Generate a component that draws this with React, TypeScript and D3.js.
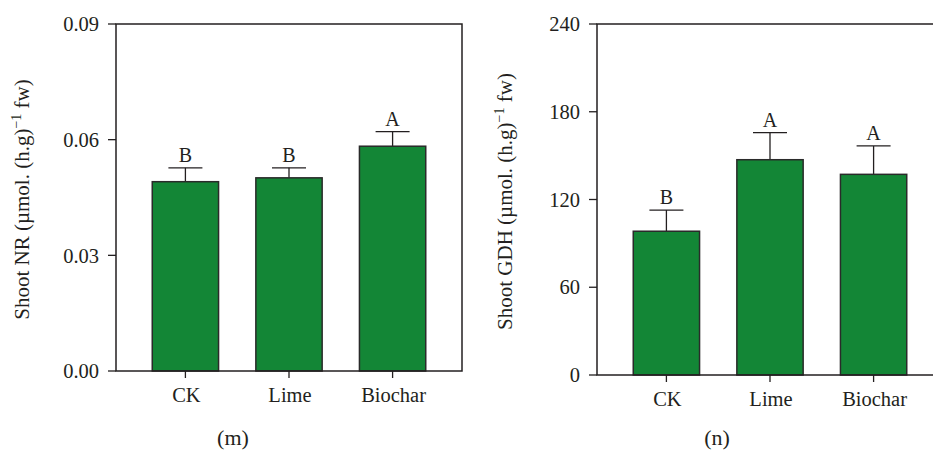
import React from "react";
import * as d3 from "d3";

// Treatments shared by both panels
const categories = ["CK", "Lime", "Biochar"];

// Panel (m): shoot nitrate reductase
const nrMeans = [0.0491, 0.0501, 0.0583];
const nrErrors = [0.0036, 0.0026, 0.0038];
const nrLetters = ["B", "B", "A"];
const nrTicks = [0, 0.03, 0.06, 0.09];

// Panel (n): shoot glutamate dehydrogenase
const gdhMeans = [98.3, 147.2, 137.2];
const gdhErrors = [14.5, 18.5, 19.4];
const gdhLetters = ["B", "A", "A"];
const gdhTicks = [0, 60, 120, 180, 240];

const FONT = "'Liberation Serif', 'Times New Roman', serif";
const INK = "#231f20";
const GREEN = "#138636";

type PanelProps = {
  left: number;
  top: number;
  bottom: number;
  width: number;
  means: number[];
  errors: number[];
  letters: string[];
  ticks: number[];
  format: (v: number) => string;
  metric: string;
  titleX: number;
  panelLabel: string;
  panelLabelX: number;
};

function Panel(p: PanelProps) {
  const yMax = p.ticks[p.ticks.length - 1];
  const y = d3.scaleLinear().domain([0, yMax]).range([p.bottom, p.top]);
  const x = d3
    .scaleBand<string>()
    .domain(categories)
    .range([p.left, p.left + p.width])
    .paddingInner(0.36)
    .paddingOuter(0.35);
  const bw = x.bandwidth();
  const capHalf = 17;
  const titleY = (p.top + p.bottom) / 2 + 2;

  return (
    <g>
      {/* bars */}
      {categories.map((c, i) => (
        <g key={c}>
          <line
            x1={(x(c) as number) + bw / 2}
            x2={(x(c) as number) + bw / 2}
            y1={y(p.means[i])}
            y2={y(p.means[i] + p.errors[i])}
            stroke={INK}
            strokeWidth={1.3}
          />
          <line
            x1={(x(c) as number) + bw / 2 - capHalf}
            x2={(x(c) as number) + bw / 2 + capHalf}
            y1={y(p.means[i] + p.errors[i])}
            y2={y(p.means[i] + p.errors[i])}
            stroke={INK}
            strokeWidth={1.3}
          />
          <rect
            x={x(c)}
            y={y(p.means[i])}
            width={bw}
            height={p.bottom - y(p.means[i])}
            fill={GREEN}
            stroke="#2a2a2a"
            strokeWidth={1.5}
          />
          <text
            x={(x(c) as number) + bw / 2}
            y={y(p.means[i] + p.errors[i]) - 6}
            textAnchor="middle"
            fontFamily={FONT}
            fontSize={20}
            fill={INK}
          >
            {p.letters[i]}
          </text>
          {/* category tick and label */}
          <line
            x1={(x(c) as number) + bw / 2}
            x2={(x(c) as number) + bw / 2}
            y1={p.bottom}
            y2={p.bottom + 7}
            stroke={INK}
            strokeWidth={1.3}
          />
          <text
            x={(x(c) as number) + bw / 2 + 1}
            y={p.bottom + 31}
            textAnchor="middle"
            fontFamily={FONT}
            fontSize={20.5}
            fill={INK}
          >
            {c}
          </text>
        </g>
      ))}

      {/* frame */}
      <rect
        x={p.left}
        y={p.top}
        width={p.width}
        height={p.bottom - p.top}
        fill="none"
        stroke={INK}
        strokeWidth={1.5}
      />

      {/* value axis */}
      {p.ticks.map((t) => (
        <g key={t}>
          <line
            x1={p.left - 8}
            x2={p.left}
            y1={y(t)}
            y2={y(t)}
            stroke={INK}
            strokeWidth={1.3}
          />
          <text
            x={p.left - 17}
            y={y(t)}
            dy="0.35em"
            textAnchor="end"
            fontFamily={FONT}
            fontSize={20.5}
            fill={INK}
          >
            {p.format(t)}
          </text>
        </g>
      ))}

      <text
        transform={`translate(${p.titleX},${titleY}) rotate(-90)`}
        textAnchor="middle"
        fontFamily={FONT}
        fontSize={21}
        fill={INK}
      >
        {`Shoot ${p.metric} (µmol. (h.g)`}
        <tspan dy={-8} fontSize={14}>
          −1
        </tspan>
        <tspan dy={8}> fw)</tspan>
      </text>

      <text
        x={p.panelLabelX}
        y={445}
        textAnchor="middle"
        fontFamily={FONT}
        fontSize={22}
        fill={INK}
      >
        {p.panelLabel}
      </text>
    </g>
  );
}

export default function App() {
  return (
    <svg
      width={933}
      height={451}
      style={{ position: "absolute", left: 0, top: 0, background: "#fff" }}
    >
      <Panel
        left={116}
        top={24}
        bottom={371}
        width={346}
        means={nrMeans}
        errors={nrErrors}
        letters={nrLetters}
        ticks={nrTicks}
        format={d3.format(".2f")}
        metric="NR"
        titleX={29}
        panelLabel="(m)"
        panelLabelX={233}
      />
      <Panel
        left={597}
        top={24}
        bottom={375}
        width={346}
        means={gdhMeans}
        errors={gdhErrors}
        letters={gdhLetters}
        ticks={gdhTicks}
        format={d3.format("d")}
        metric="GDH"
        titleX={512}
        panelLabel="(n)"
        panelLabelX={717}
      />
    </svg>
  );
}
